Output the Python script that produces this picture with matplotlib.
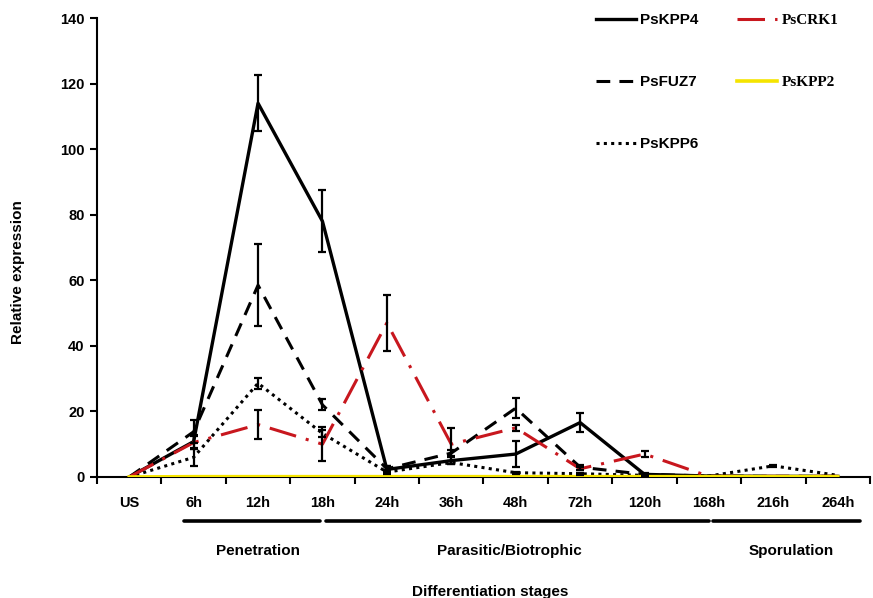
import matplotlib
matplotlib.use("Agg")
import matplotlib.pyplot as plt
import matplotlib.transforms as mtransforms
from matplotlib.lines import Line2D
import numpy as np

categories = ['US', '6h', '12h', '18h', '24h', '36h', '48h', '72h', '120h', '168h', '216h', '264h']

kpp4 = [0, 10.8, 114, 78, 2.3, 5, 7, 16.6, 0.8, 0.3, 0.2, 0.2]
kpp4_err = [0, 2, 8.5, 9.5, 1, 1, 4, 2.8, 0.3, 0, 0, 0]

fuz7 = [0, 13.8, 58.5, 22, 2.5, 7.3, 21, 3, 0.8, 0.3, 0.2, 0.2]
fuz7_err = [0, 3.5, 12.5, 1.7, 1, 1, 3, 0.8, 0.2, 0, 0, 0]

crk1 = [0, 10.5, 16, 10, 47, 10, 15, 2.5, 7, 0.2, 0.2, 0.2]
crk1_err = [0, 2, 4.4, 5.2, 8.5, 5, 1, 0.5, 1, 0, 0, 0]

kpp6 = [0, 6, 28.6, 13.3, 1.5, 4.4, 1.3, 1, 0.5, 0.3, 3.4, 0.5]
kpp6_err = [0, 2.5, 1.7, 1, 0.5, 0.5, 0.3, 0.3, 0.2, 0, 0.3, 0]

kpp2 = [0, 0.1, 0.1, 0.1, 0.1, 0.1, 0.1, 0.1, 0.1, 0.1, 0.1, 0.1]

stages = ['Penetration', 'Parasitic/Biotrophic', 'Sporulation']

SANS = ['Liberation Sans Narrow', 'Liberation Sans', 'DejaVu Sans']
SERIF = ['Liberation Serif', 'DejaVu Serif']

fig = plt.figure(figsize=(8.73, 5.98), dpi=100)
ax = fig.add_axes([97/873, 121/598, 773/873, 459/598])

x = np.arange(len(categories))

red = '#C8171E'
yellow = '#F5E400'

series = [
    ('PsKPP4', kpp4, kpp4_err, dict(color='black', lw=2.4, ls='-')),
    ('PsFUZ7', fuz7, fuz7_err, dict(color='black', lw=2.2, ls=(0, (4.5, 3)))),
    ('PsKPP6', kpp6, kpp6_err, dict(color='black', lw=2.2, ls=(0, (1, 1.4)))),
    ('PsCRK1', crk1, crk1_err, dict(color=red, lw=2.2, ls=(0, (9, 3.3, 1.0, 3.3)))),
    ('PsKPP2', kpp2, None, dict(color=yellow, lw=2.6, ls='-')),
]

handles = {}
for name, vals, err, st in series:
    ln, = ax.plot(x, vals, color=st['color'], lw=st['lw'], linestyle=st['ls'], zorder=3)
    handles[name] = ln
    if err is not None:
        e = np.array(err, dtype=float)
        mask = e > 0
        ax.errorbar(x[mask], np.array(vals)[mask], yerr=e[mask], fmt='none',
                    ecolor='black', elinewidth=1.6, capsize=3, capthick=1.6, zorder=4)

ax.set_xlim(-0.5, len(categories) - 0.5)
ax.set_ylim(0, 140)
ax.set_yticks(np.arange(0, 141, 20))
ax.set_yticklabels([str(v) for v in range(0, 141, 20)], fontfamily=SANS,
                   fontweight='bold', fontsize=10.5)
ax.set_xticks(x)
ax.set_xticklabels(categories, fontfamily=SANS, fontweight='bold', fontsize=10.5)
ax.set_xticks(np.arange(-0.5, len(categories)), minor=True)
ax.tick_params(axis='x', which='major', length=0, pad=14)
ax.tick_params(axis='x', which='minor', length=5, width=1.5, direction='out')
ax.tick_params(axis='y', length=5, width=1.5, direction='out', pad=4)
for s in ['top', 'right']:
    ax.spines[s].set_visible(False)
for s in ['left', 'bottom']:
    ax.spines[s].set_linewidth(1.5)

# stage bars and labels below the axis
trans = mtransforms.blended_transform_factory(ax.transData, fig.transFigure)
stage_spans = [(0.85, 2.96), (3.05, 9.0), (9.07, 11.34)]
stage_centers = [2.0, 5.9, 10.28]
y_bar = 1 - 521/598
y_lab = 1 - 551/598
for (a, b), c, lab in zip(stage_spans, stage_centers, stages):
    fig.add_artist(Line2D([a, b], [y_bar, y_bar], transform=trans, color='black', lw=2.6,
                          solid_capstyle='round'))
    fig.text(c, y_lab, lab, transform=trans, ha='center', va='center',
             fontfamily=SANS, fontweight='bold', fontsize=11)

fig.text(490/873, 1 - 592/598, 'Differentiation stages', ha='center', va='center',
         fontfamily=SANS, fontweight='bold', fontsize=11)
fig.text(18/873, 1 - 272/598, 'Relative expression', ha='center', va='center', rotation=90,
         fontfamily=SANS, fontweight='bold', fontsize=11)

order = ['PsKPP4', 'PsFUZ7', 'PsKPP6', 'PsCRK1', 'PsKPP2']
leg = fig.legend([handles[n] for n in order], order, ncol=2, loc='upper left',
                 bbox_to_anchor=(590/873, 1 - 7/598), frameon=False,
                 prop={'family': SANS, 'weight': 'bold', 'size': 11},
                 handlelength=2.6, handletextpad=0.3, labelspacing=3.15,
                 columnspacing=2.5, borderaxespad=0)
for t in leg.get_texts():
    if t.get_text() in ('PsCRK1', 'PsKPP2'):
        t.set_fontfamily(SERIF)

fig.savefig('out.png', dpi=100)
